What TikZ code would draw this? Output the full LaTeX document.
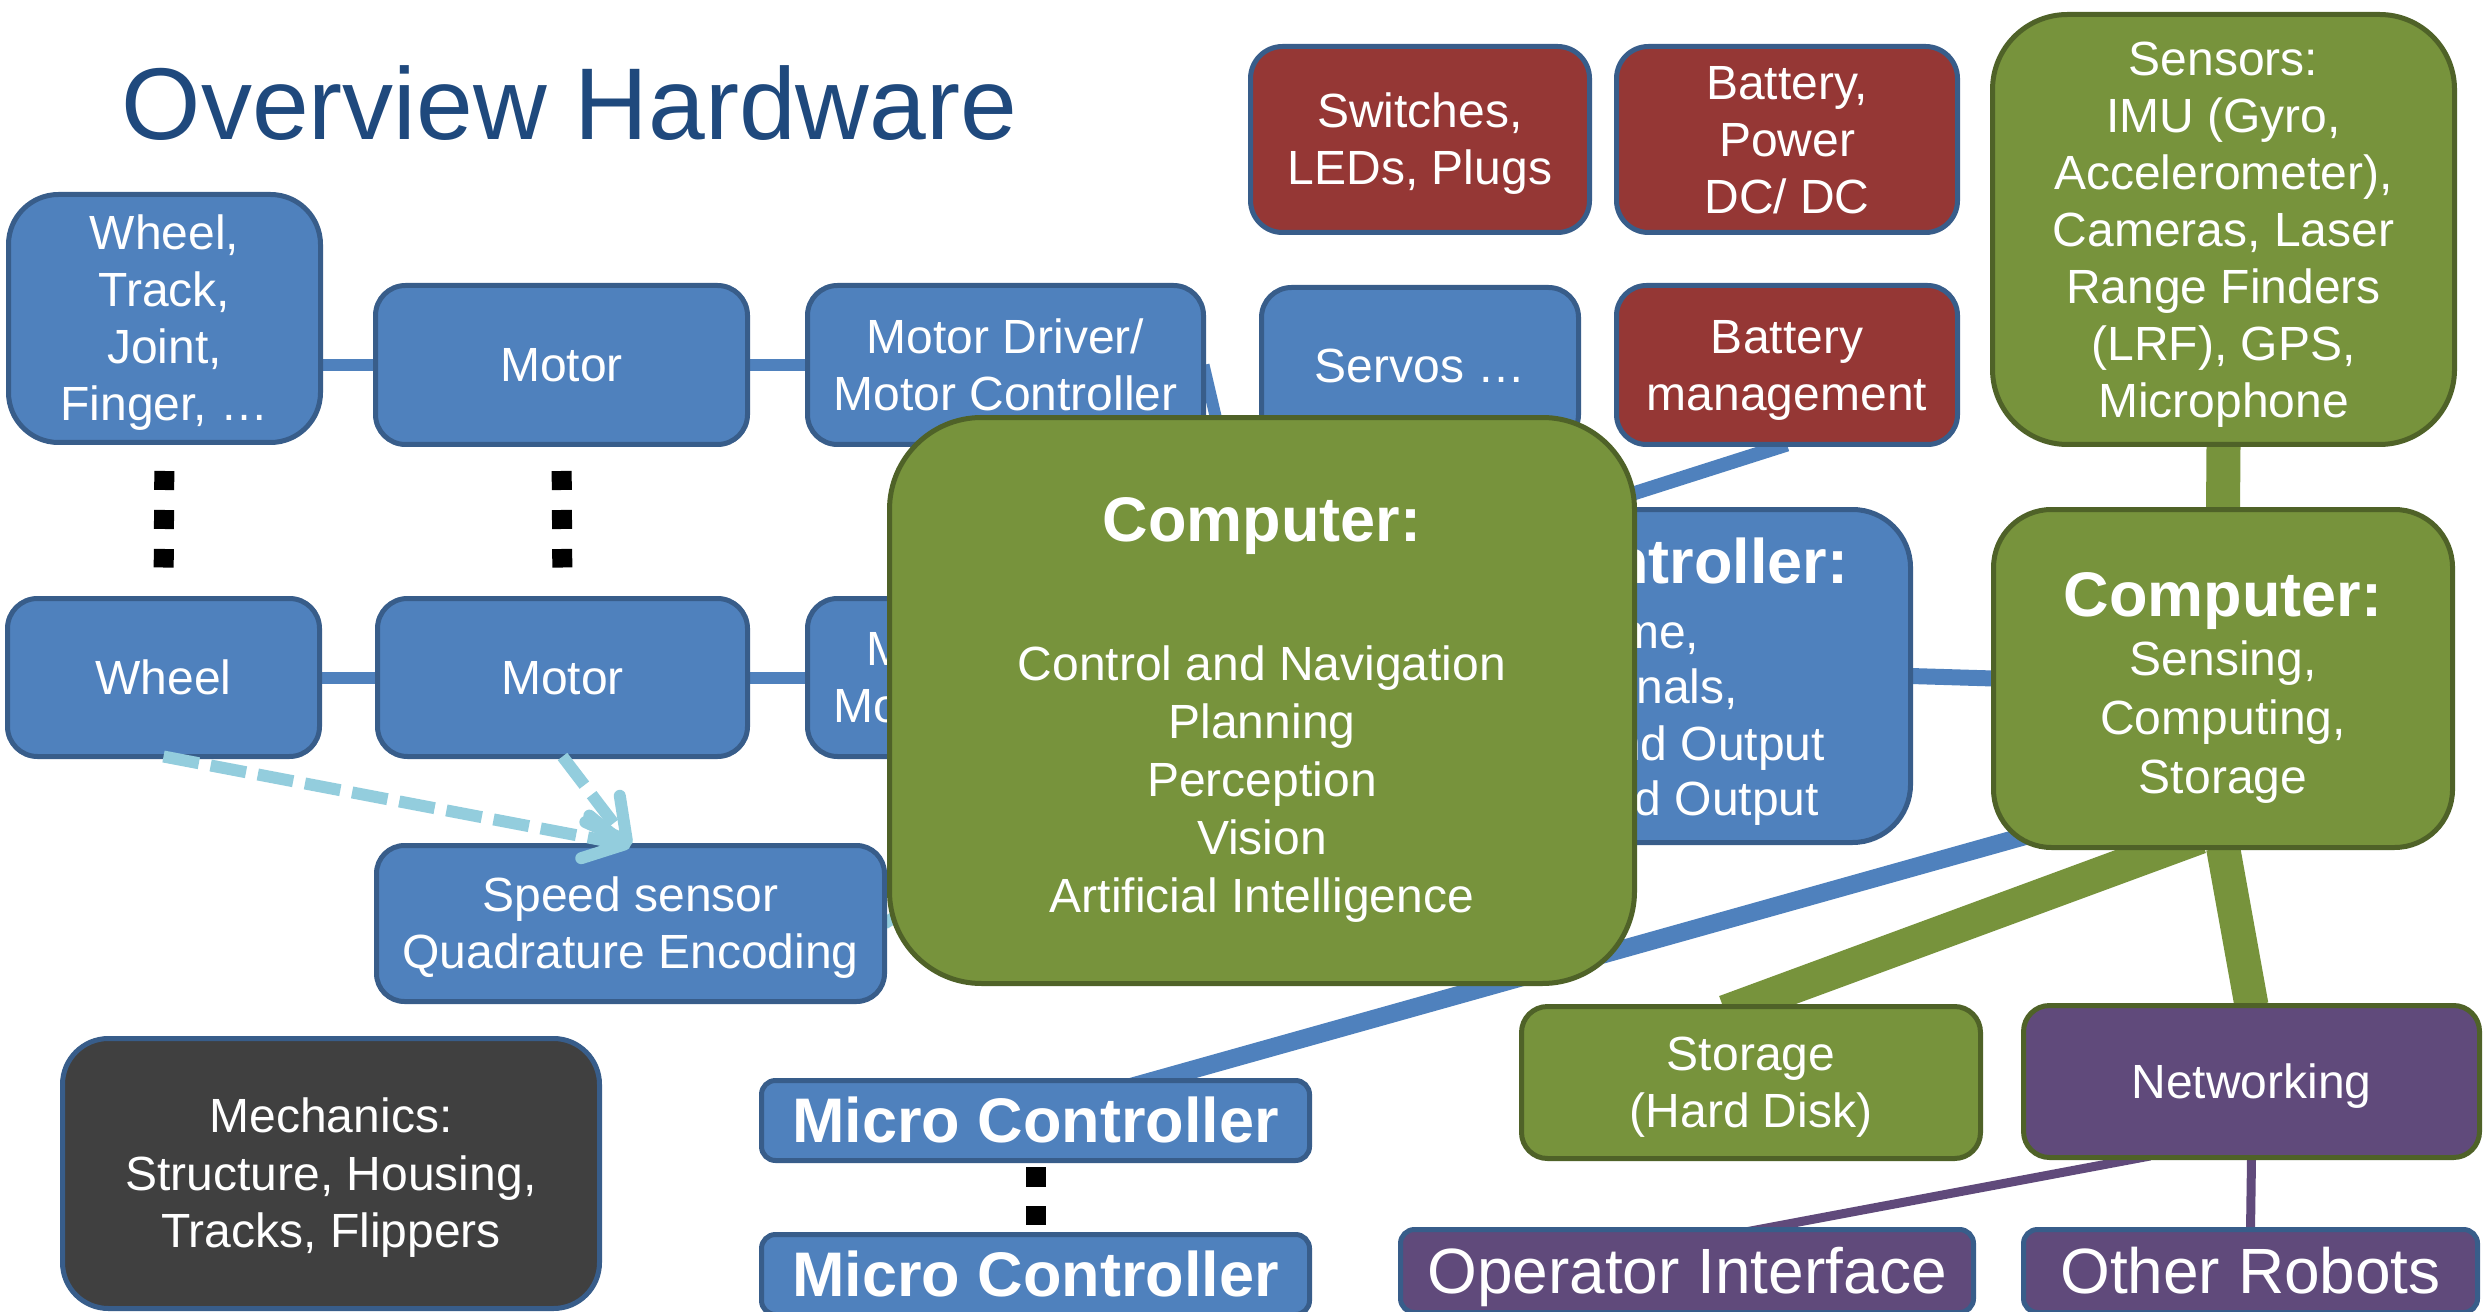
\documentclass[tikz,border=0pt]{standalone}
\usepackage{fontspec}
\setmainfont{Liberation Sans}
\usetikzlibrary{arrows.meta}
\definecolor{bfill}{HTML}{4F81BD}
\definecolor{bbord}{HTML}{385D8A}
\definecolor{rfill}{HTML}{953735}
\definecolor{gfill}{HTML}{77933C}
\definecolor{gbord}{HTML}{4F6228}
\definecolor{pfill}{HTML}{604A7B}
\definecolor{dfill}{HTML}{404040}
\definecolor{lblue}{HTML}{93CDDD}
\definecolor{ttl}{HTML}{1F497D}
\pgfdeclarelayer{back}
\pgfdeclarelayer{bg}
\pgfsetlayers{back,bg,main}
\newcommand\ppst{\rule[-0.212em]{0pt}{1.117em}}
\newcommand\ppsttall{\rule[-0.212em]{0pt}{1.212em}}
\begin{document}
\begin{tikzpicture}[x=0.3pt,y=-0.3pt,
  box/.style={draw, line width=1.5pt, inner sep=0pt, outer sep=0pt, text=white, align=center,
    font=\fontsize{14.4pt}{17.1pt}\selectfont},
  blbox/.style={box, fill=bfill, draw=bbord},
  rdbox/.style={box, fill=rfill, draw=bbord},
  grbox/.style={box, fill=gfill, draw=gbord},
  pubox/.style={box, fill=pfill, draw=bbord},
  pgbox/.style={box, fill=pfill, draw=gbord},
  dkbox/.style={box, fill=dfill, draw=bbord},
  bigbold/.style={font=\bfseries\fontsize{18.9pt}{22pt}\selectfont},
  bigreg/.style={font=\fontsize{19.2pt}{23pt}\selectfont},
  mctext/.style={anchor=base east, inner sep=0pt, outer sep=0pt, text=white,
    font=\fontsize{14.4pt}{17.1pt}\selectfont},
  bline/.style={draw=bfill, line width=3.6pt},
  gline/.style={draw=gfill, line width=10.2pt},
  pline/.style={draw=pfill, line width=2.7pt},
  kdash/.style={draw=black, line width=6pt, dash pattern=on 5.7pt off 6pt},
  lbarrow/.style={draw=lblue, line width=3.6pt, dash pattern=on 10.8pt off 3.6pt,
    -{Straight Barb[length=12pt,width=13pt,round]}}
]
\useasboundingbox (0,0) rectangle (2484,1312);
\begin{pgfonlayer}{back}
\fill[white] (0,0) rectangle (2484,1312);
\end{pgfonlayer}

% title
\node[anchor=base west, inner sep=0pt, text=ttl, font=\fontsize{30.6pt}{36pt}\selectfont] (title) at (121,140) {Overview Hardware};

% left chain, top row
\node[blbox, rounded corners=15pt, minimum width=93.6pt, minimum height=74.4pt] (wt) at (164.5,318.5)
  {\ppst Wheel,\\\ppst Track,\\\ppst Joint,\\\ppst Finger, …};
\node[blbox, rounded corners=9pt, minimum width=111.6pt, minimum height=47.7pt] (mot1) at (561.5,365) {\ppst Motor};
\node[blbox, rounded corners=9pt, minimum width=118.8pt, minimum height=47.7pt] (md1) at (1005.5,365)
  {\ppst Motor Driver/\\\ppst Motor Controller};
\node[blbox, rounded corners=9pt, minimum width=95.1pt, minimum height=47.1pt] (serv) at (1420,366) {\ppst Servos …};

% power boxes
\node[rdbox, rounded corners=9.6pt, minimum width=101.7pt, minimum height=55.8pt] (sw) at (1420,139.5)
  {\ppst Switches,\\\ppst LEDs, Plugs};
\node[rdbox, rounded corners=9.6pt, minimum width=102.3pt, minimum height=55.8pt] (bat) at (1787,139.5)
  {\ppst Battery,\\\ppst Power\\\ppst DC/ DC};
\node[rdbox, rounded corners=9pt, minimum width=102.3pt, minimum height=47.7pt] (bm) at (1787,365)
  {\ppst Battery\\\ppst management};

% sensors
\node[grbox, rounded corners=22.5pt, minimum width=138.6pt, minimum height=129pt] (sens) at (2223.5,229.5)
  {\ppst Sensors:\\\ppst IMU (Gyro,\\\ppst Accelerometer),\\\ppst Cameras, Laser\\\ppst Range Finders\\\ppst (LRF), GPS,\\\ppst Microphone};

% left chain, bottom row
\node[blbox, rounded corners=9pt, minimum width=93.6pt, minimum height=47.4pt] (wh) at (163.5,677.5) {\ppst Wheel};
\node[blbox, rounded corners=9pt, minimum width=111pt, minimum height=47.4pt] (mot2) at (562.5,677.5) {\ppst Motor};
\node[blbox, rounded corners=9pt, minimum width=118.8pt, minimum height=47.4pt] (md2) at (1005.5,677.5)
  {\ppst Motor\phantom{ Driver/}\\\ppst Motor\phantom{ Controller}};
\node[blbox, rounded corners=8.4pt, minimum width=152.4pt, minimum height=46.8pt] (spd) at (630.5,923.5)
  {\ppst Speed sensor\\\ppst Quadrature Encoding};

% micro controller (mostly hidden behind the computer)
\node[blbox, rounded corners=17.4pt, minimum width=190.2pt, minimum height=99.9pt] (mcb) at (1593.5,676) {};
\node[mctext, font=\bfseries\fontsize{18.9pt}{22pt}\selectfont] (mcb-a) at (1848,583) {Controller:};
\node[mctext] (mcb-b) at (1699,648) {Time,};
\node[mctext] (mcb-c) at (1738,703) {Signals,};
\node[mctext] (mcb-d) at (1825,760) {and Output};
\node[mctext] (mcb-e) at (1819,815) {and Output};

% main computer
\node[grbox, font=\fontsize{14.4pt}{17.4pt}\selectfont, rounded corners=27.6pt, minimum width=223.5pt, minimum height=169.8pt] (comp) at (1262,700.5)
  {{\bfseries\fontsize{18.9pt}{22pt}\selectfont\ppsttall Computer:}\\[24.3pt]\ppst Control and Navigation\\\ppst Planning\\\ppst Perception\\\ppst Vision\\\ppst Artificial Intelligence};

% second computer
\node[grbox, font=\fontsize{14.4pt}{17.7pt}\selectfont, rounded corners=17.4pt, minimum width=137.7pt, minimum height=101.4pt] (comp2) at (2223,678.5)
  {{\bfseries\fontsize{18.9pt}{22pt}\selectfont\ppsttall Computer:}\\\ppst Sensing,\\\ppst Computing,\\\ppst Storage};

\node[grbox, rounded corners=7.8pt, minimum width=137.7pt, minimum height=45.6pt] (sto) at (1751,1082.5)
  {\ppst Storage\\\ppst (Hard Disk)};
\node[pgbox, rounded corners=7.8pt, minimum width=136.8pt, minimum height=45.6pt] (net) at (2251.5,1081.5)
  {\ppst Networking};

% bottom row
\node[dkbox, font=\fontsize{14.4pt}{17.3pt}\selectfont, rounded corners=13.8pt, minimum width=161.1pt, minimum height=81pt] (mech) at (331,1173.5)
  {\ppst Mechanics:\\\ppst Structure, Housing,\\\ppst Tracks, Flippers};
\node[blbox, bigbold, rounded corners=4.2pt, minimum width=164.4pt, minimum height=24pt] (mc1) at (1035.5,1120.5)
  {\ppst Micro Controller};
\node[blbox, bigbold, rounded corners=4.2pt, minimum width=164.4pt, minimum height=24pt] (mc2) at (1035.5,1274.5)
  {\ppst Micro Controller};
\node[pubox, bigreg, rounded corners=4.2pt, minimum width=171.9pt, minimum height=24.9pt] (op) at (1687,1271)
  {\ppst Operator Interface};
\node[pubox, bigreg, rounded corners=4.2pt, minimum width=136.2pt, minimum height=24.9pt] (oth) at (2250.5,1271)
  {\ppst Other Robots};

% free ends of connectors
\coordinate (bmend) at (1500,536);
\coordinate (mc1in) at (1120,1090);
\coordinate (c2in) at (2150,801);
\coordinate (c2sto) at (2200,837);
\coordinate (stoin) at (1725,1012);
\coordinate (netop) at (2150,1156);
\coordinate (opin) at (1740,1233);

\begin{pgfonlayer}{bg}
\draw[bline] (wt.east |- mot1.west) -- (mot1.west);
\draw[bline] (mot1.east) -- (md1.west);
\draw[bline] (wh.east) -- (mot2.west);
\draw[bline] (mot2.east) -- (md2.west);
\draw[bline] (md1.east) -- (mcb.west);
\draw[bline, line width=4.2pt] (bm.south) -- (bmend);
\draw[draw=lblue, line width=3.6pt] (spd.east) -- (mcb.west);
\draw[bline, line width=4.8pt] (mcb.east) -- (comp2.west);
\draw[bline, line width=5.4pt] (mc1in) -- (c2in);
\draw[gline] (sens.south) -- (comp2.north);
\draw[gline] (c2sto) -- (stoin);
\draw[gline] (comp2.south) -- (net.north);
\draw[pline] (netop) -- (opin);
\draw[pline] (net.south) -- (oth.north);
\end{pgfonlayer}

% dotted continuations
\draw[kdash, shorten <=8.55pt, shorten >=9.3pt] (wt.south) -- (wh.north);
\draw[kdash, shorten <=7.95pt, shorten >=9.3pt] (mot1.south) -- (mot2.north);
\draw[kdash, dash pattern=on 6pt off 5.7pt, shorten <=1.95pt, shorten >=2.85pt] (mc1.south) -- (mc2.north);

% speed sensing arrows
\draw[lbarrow] (wh.south) -- (spd.north);
\draw[lbarrow] (mot2.south) -- (spd.north);
\end{tikzpicture}
\end{document}
